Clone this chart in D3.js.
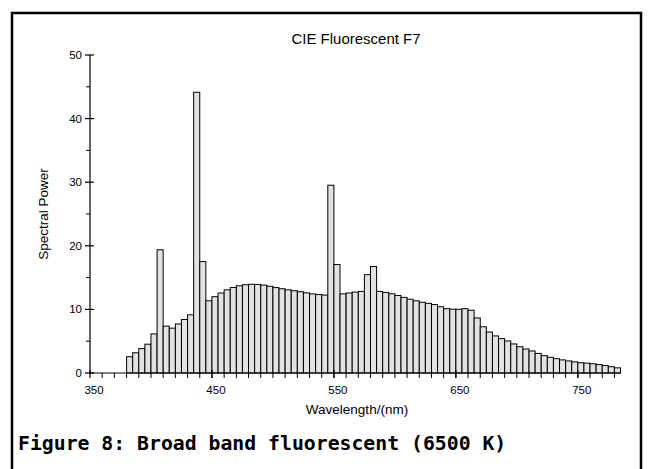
<!DOCTYPE html>
<html><head><meta charset="utf-8">
<script src="https://cdn.jsdelivr.net/npm/d3@7"></script>
<style>body{margin:0;background:#fff}svg{display:block}</style>
</head><body>
<svg id="c" width="649" height="469"></svg>
<script>
const wavelengths = d3.range(380, 781, 5);
const power = [2.56,3.18,3.84,4.53,6.15,19.37,7.37,7.05,7.71,8.41,9.15,44.14,17.52,11.35,12.00,12.58,13.08,13.45,13.71,13.88,13.95,13.93,13.82,13.64,13.43,13.25,13.08,12.93,12.78,12.60,12.44,12.33,12.26,29.52,17.05,12.44,12.58,12.72,12.83,15.46,16.75,12.83,12.67,12.45,12.19,11.89,11.60,11.35,11.12,10.95,10.76,10.42,10.11,10.04,10.02,10.11,9.87,8.65,7.27,6.44,5.83,5.41,5.04,4.57,4.12,3.77,3.46,3.08,2.73,2.47,2.25,2.06,1.90,1.75,1.62,1.54,1.45,1.32,1.17,0.99,0.81];
const xTickLabels = [350, 450, 550, 650, 750];
const yTickLabels = [0, 10, 20, 30, 40, 50];
const titleText = "CIE Fluorescent F7";
const xLabel = "Wavelength/(nm)";
const yLabel = "Spectral Power";
const caption = "Figure 8: Broad band fluorescent (6500 K)";

const svg = d3.select("#c");
const font = "'Liberation Sans', Arial, sans-serif";

svg.append("rect").attr("x",12).attr("y",13).attr("width",629).attr("height",480)
  .attr("fill","none").attr("stroke","#000").attr("stroke-width",2.5);

const x = d3.scaleLinear().domain([350, 785]).range([90, 620.5]);
const y = d3.scaleLinear().domain([0, 50]).range([373, 55]);

// bars
svg.append("g").selectAll("rect").data(wavelengths).join("rect")
  .attr("x", d => x(d))
  .attr("width", d => x(d+5) - x(d))
  .attr("y", (d,i) => y(power[i]))
  .attr("height", (d,i) => y(0) - y(power[i]))
  .attr("fill", "#e2e2e2").attr("stroke", "#000").attr("stroke-width", 1);

// y axis
const gy = svg.append("g").attr("transform", `translate(${x(350)},0)`);
gy.append("line").attr("y1", y(0)).attr("y2", y(50)).attr("stroke","#000").attr("stroke-width",1.2);
gy.selectAll("line.maj").data(yTickLabels).join("line").attr("class","maj")
  .attr("x1",-5).attr("x2",4).attr("y1",d=>y(d)).attr("y2",d=>y(d)).attr("stroke","#000").attr("stroke-width",1.2);
gy.selectAll("line.min").data(d3.range(5,50,10)).join("line").attr("class","min")
  .attr("x1",-4).attr("x2",0).attr("y1",d=>y(d)).attr("y2",d=>y(d)).attr("stroke","#000").attr("stroke-width",1);
gy.selectAll("text").data(yTickLabels).join("text")
  .attr("x",-8).attr("y",d=>y(d)+4).attr("text-anchor","end")
  .attr("font-family",font).attr("font-size",11.5).attr("fill","#000").text(d=>d);

// x axis
const gx = svg.append("g").attr("transform", `translate(0,${y(0)})`);
gx.append("line").attr("x1", x(350)).attr("x2", x(785)).attr("stroke","#000").attr("stroke-width",1.2);
gx.selectAll("line.min").data(d3.range(360, 781, 10)).join("line").attr("class","min")
  .attr("x1",d=>x(d)).attr("x2",d=>x(d)).attr("y1",0).attr("y2",5).attr("stroke","#000").attr("stroke-width",1);
gx.selectAll("line.maj").data(xTickLabels).join("line").attr("class","maj")
  .attr("x1",d=>x(d)).attr("x2",d=>x(d)).attr("y1",-3).attr("y2",5).attr("stroke","#000").attr("stroke-width",1.2);
gx.selectAll("text").data(xTickLabels).join("text")
  .attr("x",d=>x(d)+4).attr("y",21).attr("text-anchor","middle")
  .attr("font-family",font).attr("font-size",11.5).attr("fill","#000").text(d=>d);

// labels
svg.append("text").attr("x",356).attr("y",44).attr("text-anchor","middle")
  .attr("font-family",font).attr("font-size",15).text(titleText);
svg.append("text").attr("x",357).attr("y",414).attr("text-anchor","middle")
  .attr("font-family",font).attr("font-size",13.5).text(xLabel);
svg.append("text").attr("transform","translate(48,214) rotate(-90)").attr("text-anchor","middle")
  .attr("font-family",font).attr("font-size",13.5).text(yLabel);
svg.append("text").attr("x",18).attr("y",450)
  .attr("font-family","'DejaVu Sans Mono', monospace").attr("font-weight","bold").attr("font-size",19.8)
  .text(caption);
</script>
</body></html>
